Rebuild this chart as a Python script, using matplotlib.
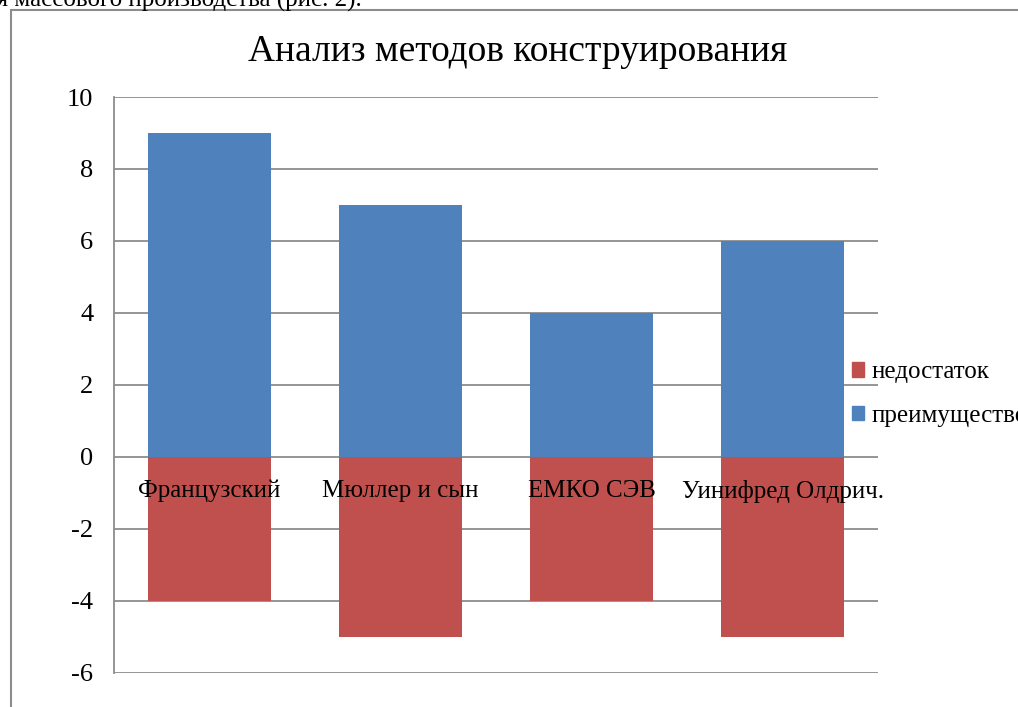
import matplotlib
matplotlib.use("Agg")
import matplotlib.pyplot as plt
from matplotlib.patches import Rectangle, Patch
import numpy as np

plt.rcParams['font.family'] = ['Liberation Serif', 'DejaVu Serif']

categories = ['Французский', 'Мюллер и сын', 'ЕМКО СЭВ', 'Уинифред Олдрич.']
advantage = [9, 7, 4, 6]
drawback = [-4, -5, -4, -5]
y_ticks = [-6, -4, -2, 0, 2, 4, 6, 8, 10]

blue = '#4F81BD'
red = '#C0504D'

fig = plt.figure(figsize=(10.18, 7.07), dpi=100)
ax = fig.add_axes([0.112, 0.0481, 0.7505, 0.8147])

x = np.arange(len(categories))
ax.bar(x, advantage, width=0.64, color=blue, zorder=2)
ax.bar(x, drawback, width=0.64, color=red, zorder=2)

ax.set_xlim(-0.5, len(categories) - 0.5)
ax.set_ylim(-6, 10)
ax.set_yticks(y_ticks)
ax.set_yticklabels([str(t) for t in y_ticks], fontsize=19)
ax.tick_params(axis='y', length=0, pad=15)
ax.set_xticks([])
for t in y_ticks:
    ax.axhline(t, color='#8c8c8c', lw=1.3, zorder=1)

for s in ['top', 'right', 'bottom']:
    ax.spines[s].set_visible(False)
ax.spines['left'].set_color('#8c8c8c')
ax.spines['left'].set_linewidth(1.3)

for i, name in enumerate(categories):
    ax.text(i, -0.95, name, ha='center', va='center', fontsize=18, zorder=3)

fig.text(0.508, 1 - 52 / 707, 'Анализ методов конструирования',
         ha='center', va='center', fontsize=27)

handles = [Patch(color=red, label='недостаток'), Patch(color=blue, label='преимущество')]
fig.legend(handles=handles, loc='center left', bbox_to_anchor=(0.8245, 1 - 394 / 707),
           frameon=False, fontsize=18, handlelength=0.5, handleheight=0.5,
           handletextpad=0.3, labelspacing=0.85, borderpad=0)

# outer frame of the chart (cut at right and bottom)
fig.patches.append(Rectangle((11 / 1018, -0.1), 1.2, 1 - 10 / 707 + 0.1,
                             transform=fig.transFigure, fill=False,
                             edgecolor='#8c8c8c', lw=1.5))

# clipped line of document text above the chart
fig.text(362 / 1018, 1 - 7 / 707, 'годность для массового производства (рис. 2).',
         ha='right', va='baseline', fontsize=18)

fig.savefig('out.png', dpi=100)
